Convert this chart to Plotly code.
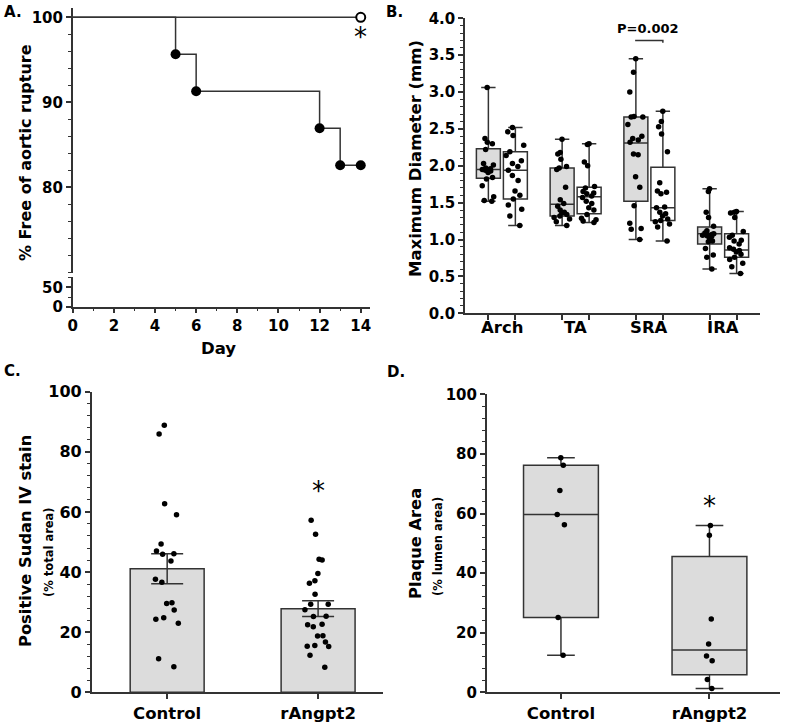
import numpy as np
import plotly.graph_objects as go

# ---------------- data ----------------
# Panel A: Kaplan-Meier, % free of aortic rupture
km_days_control = [0, 5, 6, 12, 13, 14]
km_free_control = [100, 95.65, 91.30, 86.96, 82.61, 82.61]
km_days_rangpt2 = [0, 14]
km_free_rangpt2 = [100, 100]

# Panel B: maximum diameter (mm)
b_regions = ["Arch", "TA", "SRA", "IRA"]
arch_control = [3.06, 2.37, 2.32, 2.30, 2.22, 2.03, 2.01, 1.97, 1.96, 1.95, 1.94, 1.93,
                1.91, 1.84, 1.82, 1.73, 1.58, 1.53, 1.52]
arch_rangpt2 = [2.52, 2.46, 2.41, 2.28, 2.19, 2.14, 2.07, 2.03, 1.99, 1.94, 1.87, 1.80,
                1.66, 1.60, 1.55, 1.47, 1.41, 1.32, 1.19]
ta_control = [2.36, 2.18, 2.16, 2.09, 1.99, 1.97, 1.95, 1.71, 1.54, 1.49, 1.45, 1.40,
              1.37, 1.36, 1.34, 1.32, 1.30, 1.28, 1.24, 1.19]
ta_rangpt2 = [2.30, 2.29, 2.05, 2.00, 1.72, 1.70, 1.65, 1.63, 1.62, 1.59, 1.57, 1.52,
              1.49, 1.43, 1.40, 1.34, 1.29, 1.27, 1.25, 1.23]
sra_control = [3.45, 3.27, 3.00, 2.67, 2.66, 2.66, 2.56, 2.40, 2.37, 2.35, 2.32, 2.16,
               2.15, 1.85, 1.71, 1.46, 1.22, 1.15, 1.14, 1.00]
sra_rangpt2 = [2.74, 2.60, 2.53, 2.43, 2.19, 1.77, 1.66, 1.64, 1.62, 1.44, 1.43, 1.37,
               1.35, 1.32, 1.28, 1.26, 1.24, 1.21, 1.17, 0.98]
ira_control = [1.69, 1.65, 1.37, 1.30, 1.18, 1.12, 1.09, 1.08, 1.07, 1.07, 1.06, 1.05,
               1.04, 1.02, 0.98, 0.97, 0.88, 0.79, 0.76, 0.60]
ira_rangpt2 = [1.38, 1.37, 1.36, 1.30, 1.11, 1.06, 1.03, 0.99, 0.98, 0.94, 0.89, 0.87,
               0.85, 0.83, 0.80, 0.76, 0.73, 0.68, 0.63, 0.54]
b_q1_control = [1.83, 1.32, 1.52, 0.94]
b_median_control = [1.95, 1.48, 2.31, 1.08]
b_q3_control = [2.23, 1.97, 2.66, 1.17]
b_q1_rangpt2 = [1.55, 1.35, 1.26, 0.76]
b_median_rangpt2 = [1.94, 1.58, 1.43, 0.86]
b_q3_rangpt2 = [2.19, 1.71, 1.98, 1.08]

# Panel C: positive Sudan IV stain (% total area)
groups = ["Control", "rAngpt2"]
sudan_control = [88.8, 85.9, 62.7, 59.1, 49.3, 47.0, 46.1, 45.9, 43.7, 37.6, 36.6, 29.8,
                 29.5, 27.4, 24.8, 24.3, 23.0, 11.2, 8.5]
sudan_rangpt2 = [57.2, 52.6, 44.3, 44.0, 39.5, 37.1, 36.3, 32.6, 29.3, 29.3, 27.5, 25.3,
                 25.2, 22.6, 22.5, 21.8, 18.8, 18.7, 16.7, 15.6, 15.3, 15.2, 12.3, 8.3]

# Panel D: plaque area (% lumen area)
plaque_control = [78.7, 76.2, 67.7, 59.7, 56.2, 25.1, 12.4]
plaque_rangpt2 = [56.0, 52.7, 24.6, 16.2, 12.2, 10.6, 4.3, 1.3]
d_q1 = [25.1, 5.9]
d_median = [59.7, 14.2]
d_q3 = [76.2, 45.6]

# ---------------- styling ----------------
W, H = 787, 723
FONT = "DejaVu Sans"
LINE = "#333333"
GRAY = "#dcdcdc"


def px(x):
    return x / W


def py(y):
    return 1 - y / H


fig = go.Figure()

# ---- Panel A ----
fig.add_trace(go.Scatter(x=km_days_rangpt2, y=km_free_rangpt2, mode="lines",
                         line=dict(color=LINE, width=1.5), xaxis="x", yaxis="y",
                         hoverinfo="skip"))
fig.add_trace(go.Scatter(x=km_days_control, y=km_free_control, mode="lines",
                         line=dict(color=LINE, width=1.5, shape="hv"), xaxis="x", yaxis="y",
                         hoverinfo="skip"))
fig.add_trace(go.Scatter(x=km_days_control[1:], y=km_free_control[1:], mode="markers",
                         marker=dict(color="black", size=10), xaxis="x", yaxis="y"))
fig.add_trace(go.Scatter(x=km_days_rangpt2[-1:], y=km_free_rangpt2[-1:], mode="markers",
                         marker=dict(color="white", size=9, line=dict(color="black", width=2)),
                         xaxis="x", yaxis="y"))
# empty trace so the lower (broken) y-axis segment is drawn
fig.add_trace(go.Scatter(x=[None], y=[None], mode="markers", xaxis="x", yaxis="y2",
                         hoverinfo="skip"))

# ---- Panel B ----
off, bw = 0.183, 0.325
b_control = [arch_control, ta_control, sra_control, ira_control]
b_rangpt2 = [arch_rangpt2, ta_rangpt2, sra_rangpt2, ira_rangpt2]
for i in range(len(b_regions)):
    specs = [
        (b_control[i], b_q1_control[i], b_median_control[i], b_q3_control[i], i - off, GRAY),
        (b_rangpt2[i], b_q1_rangpt2[i], b_median_rangpt2[i], b_q3_rangpt2[i], i + off, "white"),
    ]
    for vals, q1, med, q3, pos, fill in specs:
        fig.add_trace(go.Box(x=[pos], q1=[q1], median=[med], q3=[q3],
                             lowerfence=[min(vals)], upperfence=[max(vals)],
                             width=bw, whiskerwidth=0.6, fillcolor=fill,
                             line=dict(color=LINE, width=1.5), boxpoints=False,
                             xaxis="x2", yaxis="y3", hoverinfo="skip"))
        fig.add_trace(go.Box(x=[pos] * len(vals), y=vals, boxpoints="all", jitter=0.8,
                             pointpos=0, width=bw, whiskerwidth=0,
                             fillcolor="rgba(0,0,0,0)",
                             line=dict(color="rgba(0,0,0,0)", width=0),
                             marker=dict(color="black", size=5.5),
                             xaxis="x2", yaxis="y3"))

# ---- Panel C ----
c_data = [sudan_control, sudan_rangpt2]
c_means = [float(np.mean(v)) for v in c_data]
c_sems = [float(np.std(v, ddof=1) / np.sqrt(len(v))) for v in c_data]
fig.add_trace(go.Bar(x=[0, 1], y=c_means, width=0.49,
                     marker=dict(color=GRAY, line=dict(color=LINE, width=1.5)),
                     error_y=dict(type="data", array=c_sems, visible=True, color=LINE,
                                  thickness=1.5, width=16),
                     xaxis="x3", yaxis="y4", hoverinfo="skip"))
for j, vals in enumerate(c_data):
    fig.add_trace(go.Box(x=[j] * len(vals), y=vals, boxpoints="all", jitter=0.45,
                         pointpos=0, width=0.49, whiskerwidth=0,
                         fillcolor="rgba(0,0,0,0)",
                         line=dict(color="rgba(0,0,0,0)", width=0),
                         marker=dict(color="black", size=5.5),
                         xaxis="x3", yaxis="y4"))

# ---- Panel D ----
d_data = [plaque_control, plaque_rangpt2]
for j, vals in enumerate(d_data):
    fig.add_trace(go.Box(x=[j], q1=[d_q1[j]], median=[d_median[j]], q3=[d_q3[j]],
                         lowerfence=[min(vals)], upperfence=[max(vals)],
                         width=0.504, whiskerwidth=0.37, fillcolor=GRAY,
                         line=dict(color=LINE, width=1.5), boxpoints=False,
                         xaxis="x4", yaxis="y5", hoverinfo="skip"))
    fig.add_trace(go.Box(x=[j] * len(vals), y=vals, boxpoints="all", jitter=0.12,
                         pointpos=0, width=0.504, whiskerwidth=0,
                         fillcolor="rgba(0,0,0,0)",
                         line=dict(color="rgba(0,0,0,0)", width=0),
                         marker=dict(color="black", size=5.5),
                         xaxis="x4", yaxis="y5"))

# ---------------- axes ----------------
base = dict(showline=True, linecolor=LINE, linewidth=1.5, ticks="outside", tickcolor=LINE,
            tickwidth=1.5, ticklen=5, showgrid=False, zeroline=False, fixedrange=True,
            automargin=False,
            tickfont=dict(family=FONT, size=15, color="black", weight="bold"))
minor = lambda d: dict(dtick=d, ticks="outside", ticklen=3, tickcolor=LINE, tickwidth=1.2,
                       showgrid=False)

layout_axes = dict(
    xaxis=dict(base, domain=[px(72.7), px(370)], range=[0, 14.45], anchor="y2",
               tickmode="linear", tick0=0, dtick=2, minor=minor(1)),
    yaxis=dict(base, domain=[py(272.5), py(8.3)], range=[70, 101.06], anchor="x",
               tickmode="array", tickvals=[80, 90, 100], minor=dict(minor(2), tick0=0)),
    yaxis2=dict(base, domain=[py(306.7), py(277.3)], range=[0, 76], anchor="x",
                tickmode="linear", tick0=0, dtick=50, minor=minor(25)),
    xaxis2=dict(base, domain=[px(465), px(760)], range=[-0.5, 3.5], anchor="y3",
                tickmode="array",
                tickvals=[p for i in range(4) for p in (i - off, i + off)],
                ticktext=[""] * 8),
    yaxis3=dict(base, domain=[py(313.3), py(18.3)], range=[0, 4.0], anchor="x2",
                tickmode="linear", tick0=0, dtick=0.5, tickformat=".1f", minor=minor(0.1)),
    xaxis3=dict(base, domain=[px(91.7), px(383)], range=[-0.5, 1.43], anchor="y4",
                tickmode="array", tickvals=[0, 1], ticktext=groups,
                tickfont=dict(family=FONT, size=16.5, color="black", weight="bold")),
    yaxis4=dict(base, domain=[py(692.3), py(391.7)], range=[0, 100], anchor="x3",
                tickmode="linear", tick0=0, dtick=20, minor=minor(4),
                tickfont=dict(family=FONT, size=16, color="black", weight="bold")),
    xaxis4=dict(base, domain=[px(486.7), px(780)], range=[-0.5, 1.475], anchor="y5",
                tickmode="array", tickvals=[0, 1], ticktext=groups,
                tickfont=dict(family=FONT, size=16.5, color="black", weight="bold")),
    yaxis5=dict(base, domain=[py(692.3), py(394.3)], range=[0, 100], anchor="x4",
                tickmode="linear", tick0=0, dtick=20, minor=minor(4)),
)


def ann(text, x, y, size=16, angle=0, weight="bold", xanchor="center", **kw):
    d = dict(text=text, x=px(x), y=py(y), xref="paper", yref="paper", showarrow=False,
             textangle=angle, xanchor=xanchor, yanchor="middle",
             font=dict(family=FONT, size=size, color="black", weight=weight))
    d.update(kw)
    return d


annotations = [
    ann("A.", 2, 12, 15, xanchor="left"),
    ann("B.", 384, 12, 15, xanchor="left"),
    ann("C.", 2, 371, 15, xanchor="left"),
    ann("D.", 385, 372, 15, xanchor="left"),
    ann("% Free of aortic rupture", 25, 153, 16, angle=-90),
    ann("Day", 218, 348, 16.5),
    ann("Maximum Diameter (mm)", 415, 159, 16.5, angle=-90),
    ann("Positive Sudan IV stain", 25, 541, 16.3, angle=-90),
    ann("(% total area)", 49, 552, 11.5, angle=-90),
    ann("Plaque Area", 415, 544, 16.3, angle=-90),
    ann("(% lumen area)", 438, 547, 11.5, angle=-90),
    ann("P=0.002", 648, 29, 13),
]
for i, r in enumerate(b_regions):
    annotations.append(dict(text=r, x=i, y=py(328), xref="x2", yref="paper", showarrow=False,
                            yanchor="middle",
                            font=dict(family=FONT, size=16.5, color="black", weight="bold")))
# significance asterisks
for xr, yr, xv, yv in [("x", "y", 14, 98.0), ("x3", "y4", 1, 68.0), ("x4", "y5", 1, 63.5)]:
    annotations.append(dict(text="*", x=xv, y=yv, xref=xr, yref=yr, showarrow=False,
                            yanchor="middle", yshift=-3,
                            font=dict(family=FONT, size=26, color="black")))

shapes = [
    dict(type="path", xref="x2", yref="y3",
         path=f"M {2 - off},3.69 L {2 - off},3.70 L {2 + off},3.70 L {2 + off},3.67",
         line=dict(color=LINE, width=1.5)),
]

fig.update_layout(
    width=W, height=H, margin=dict(l=0, r=0, t=0, b=0, autoexpand=False),
    paper_bgcolor="white", plot_bgcolor="white", showlegend=False,
    boxmode="overlay", hovermode=False,
    font=dict(family=FONT, color="black"),
    annotations=annotations, shapes=shapes,
    **layout_axes,
)

fig.write_html("out.html", config={"displayModeBar": False},
               post_script="document.body.style.margin='0px';")
